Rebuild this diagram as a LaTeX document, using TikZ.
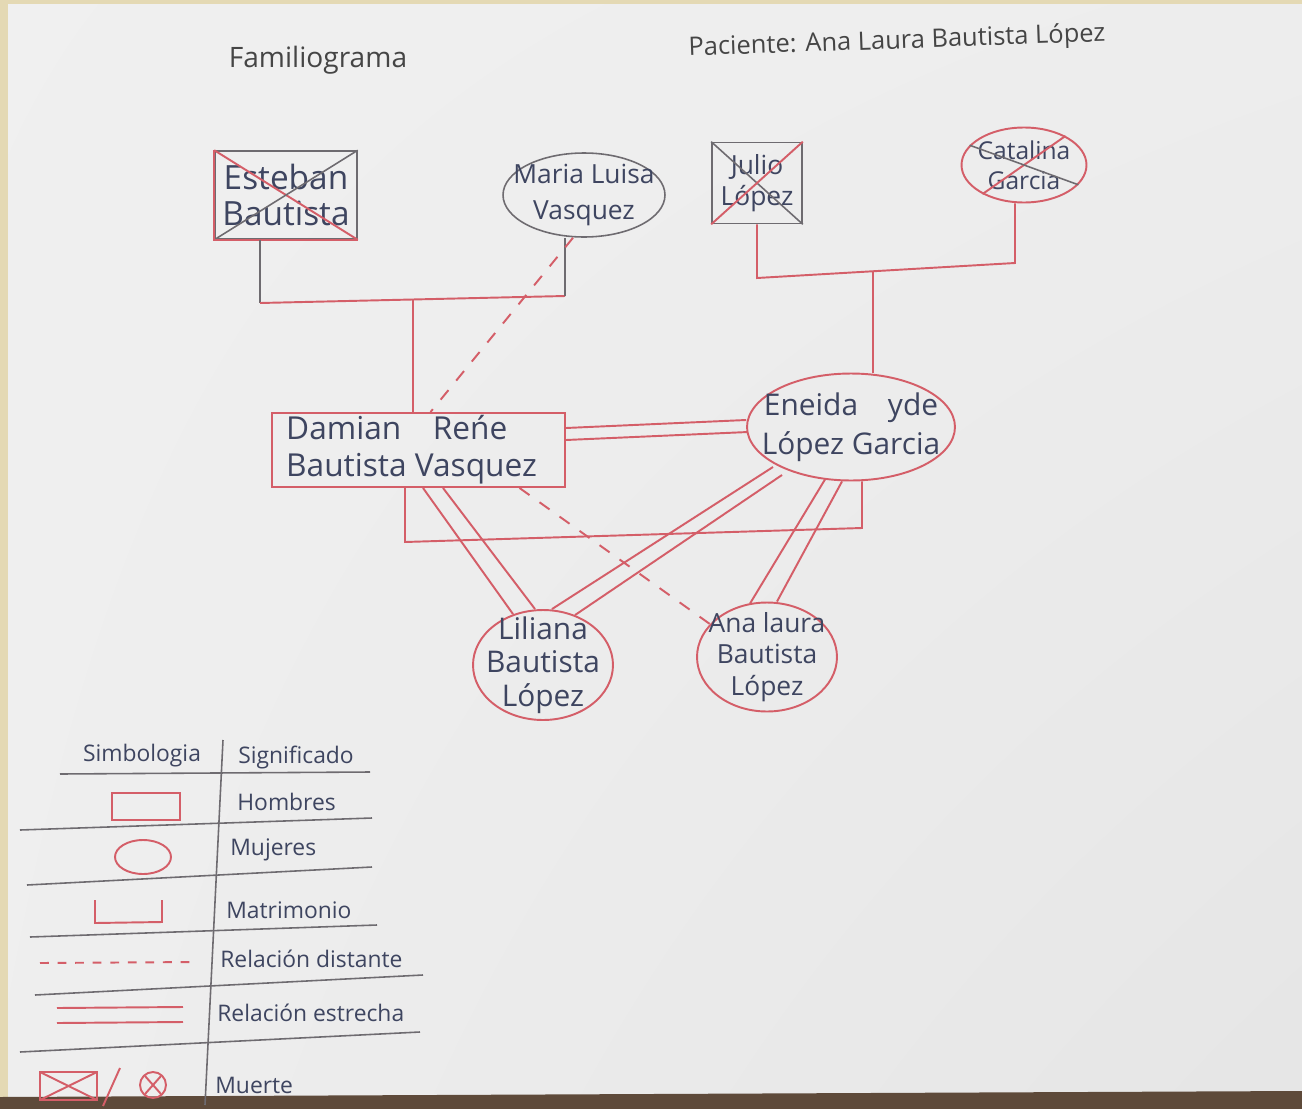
\documentclass[tikz,border=0pt]{standalone}
\usepackage{fontspec}
\setmainfont{Open Sans}
\usetikzlibrary{shapes.geometric,calc,shadings}
\definecolor{redl}{HTML}{D45E68}
\definecolor{greyl}{HTML}{6E6B70}
\definecolor{ink}{HTML}{3E4560}
\definecolor{title}{HTML}{454545}
\definecolor{beige}{HTML}{E4D9B4}
\definecolor{wood}{HTML}{5E4A3A}
\tikzset{
  rl/.style={draw=redl, line width=1.1pt},
  gl/.style={draw=greyl, line width=0.9pt},
  dashr/.style={draw=redl, line width=1.1pt, dash pattern=on 7pt off 7pt},
  nm/.style={text=ink, align=center, inner sep=0pt},
  lt/.style={text=ink, inner sep=0pt, font=\fontsize{13}{15}\selectfont},
  male/.style={rectangle, inner sep=0pt},
  fem/.style={ellipse, inner sep=0pt},
}
\begin{document}
\begin{tikzpicture}[x=0.02cm,y=-0.02cm]
\useasboundingbox (0,0) rectangle (1302,1109);
\shade[upper left=white!88!gray, upper right=white!86!gray, lower left=white!87!gray, lower right=white!80!gray] (0,0) rectangle (1302,1109);
\fill[beige] (0,0) rectangle (8,1109);
\fill[beige] (0,0) rectangle (1302,4);
\fill[wood] (0,1097) -- (1302,1091) -- (1302,1109) -- (0,1109) -- cycle;

% titles
\node[text=title, inner sep=0pt, font=\fontsize{16}{18}\selectfont] (ttl) at (318,60) {Familiograma};
\node[text=title, inner sep=0pt, font=\fontsize{14.5}{16}\selectfont, rotate=2] (pac) at (897,42) {Paciente: Ana Laura Bautista López};

% grandparents
\node[male, gl, minimum width=2.84cm, minimum height=1.76cm,
  label={[nm, font=\fontsize{19}{21}\selectfont]center:{Esteban\\Bautista}}] (esteban) at (286,195) {};
\draw[rl] (esteban.north west) -- (esteban.south east);
\draw[gl] (esteban.north east) -- (esteban.south west);
\draw[rl] (esteban.north west) -- (esteban.south west) -- (esteban.south east);

\node[fem, gl, minimum width=3.24cm, minimum height=1.68cm,
  label={[nm, font=\fontsize{15}{20}\selectfont]center:{Maria Luisa\\Vasquez}}] (maria) at (584,195) {};

\node[male, gl, minimum width=1.8cm, minimum height=1.62cm,
  label={[nm, font=\fontsize{15}{18}\selectfont]center:{Julio\\López}}] (julio) at (757,183) {};
\draw[gl] (julio.north west) -- (julio.south east);
\draw[rl] (julio.north east) -- (julio.south west);

\node[fem, rl, minimum width=2.5cm, minimum height=1.5cm,
  label={[nm, font=\fontsize{14}{17}\selectfont]center:{Catalina\\Garcia}}] (catalina) at (1024,165) {};
\draw[rl] (catalina.215) -- (catalina.35);
\draw[gl] (catalina.160) -- (catalina.-20);

% parents
\node[male, rl, minimum width=5.86cm, minimum height=1.48cm,
  label={[nm, align=left, xshift=-0.14cm, font=\fontsize{18}{21}\selectfont]center:{Damian\quad Reńe\\Bautista Vasquez}}] (damian) at (418.5,450) {};

\node[fem, rl, minimum width=4.16cm, minimum height=2.14cm,
  label={[nm, font=\fontsize{17}{22}\selectfont]center:{Eneida\quad yde\\López Garcia}}] (eneida) at (851,427) {};

% children
\node[fem, rl, minimum width=2.8cm, minimum height=2.2cm,
  label={[nm, font=\fontsize{17}{19}\selectfont]center:{Liliana\\Bautista\\López}}] (liliana) at (543,665) {};
\node[fem, rl, minimum width=2.8cm, minimum height=2.18cm,
  label={[nm, font=\fontsize{15}{18}\selectfont]center:{Ana laura\\Bautista\\López}}] (ana) at (767,657) {};

% marriage Esteban - Maria
\coordinate (j1) at (260,303);
\coordinate (j2) at (565,296);
\coordinate (c1) at (413,299.5);
\draw[gl] (esteban.south -| j1) -- (j1);
\draw[rl] (j1) -- (j2);
\draw[gl] (j2) -- (maria.south -| j2);
\draw[rl] (c1) -- (damian.north -| c1);
\draw[dashr] ($(maria.south)+(-11,0)$) -- ($(damian.north)+(12,0)$);

% marriage Julio - Catalina
\coordinate (k1) at (757,278);
\coordinate (k2) at (1015,263);
\coordinate (c2) at (873,271.3);
\draw[rl] (julio.south -| k1) -- (k1) -- (k2) -- (catalina.south -| k2);
\draw[rl] (c2) -- (eneida.north -| c2);

% Damian - Eneida
\draw[rl] ($(damian.east)+(0,-22)$) -- ($(eneida.west)+(0,-7)$);
\draw[rl] ($(damian.east)+(0,-10)$) -- ($(eneida.west)+(2,5)$);
\coordinate (m1) at (405,542);
\coordinate (m2) at (862,528);
\draw[rl] (damian.south -| m1) -- (m1) -- (m2) -- (eneida.south -| m2);

% relations to children
\draw[rl] ($(damian.south)+(4.5,0)$) -- ($(liliana.north)+(-30,5)$);
\draw[rl] ($(damian.south)+(24.5,0)$) -- ($(liliana.north)+(-8,0)$);
\draw[rl] ($(eneida.center)+(-78,40)$) -- ($(liliana.north)+(9,0)$);
\draw[rl] ($(eneida.center)+(-69,48)$) -- ($(liliana.north)+(32,6)$);
\draw[dashr] ($(damian.south)+(101,0)$) -- (ana.150);
\draw[rl] ($(eneida.south)+(-26,-2)$) -- ($(ana.north)+(-17,2)$);
\draw[rl] ($(eneida.south)+(-9,0)$) -- ($(ana.north)+(10,0)$);

% legend
\node[lt] (h1) at (142,756) {Simbologia};
\node[lt] (h2) at (296,757) {Significado};
\draw[gl] (60,774) -- (370,772);
\draw[gl] (223,740) -- (205,1105);
\draw[gl] (20,830) -- (372,818);
\draw[gl] (27,885) -- (372,867);
\draw[gl] (30,937) -- (377,925);
\draw[gl] (35,995) -- (423,975);
\draw[gl] (20,1052) -- (420,1032);

\node[lt, anchor=west] (l1) at (237,802) {Hombres};
\node[lt, anchor=west] (l2) at (230,850) {Mujeres};
\node[lt, anchor=west] (l3) at (226,910) {Matrimonio};
\node[lt, anchor=west] (l4) at (220,959) {Relación distante};
\node[lt, anchor=west] (l5) at (217,1013) {Relación estrecha};
\node[lt, anchor=west] (l6) at (215,1085) {Muerte};

\draw[rl] (112,793) rectangle (180,820);
\draw[rl] (143,857) ellipse [x radius=28, y radius=17];
\draw[rl] (95,900) -- (95,923) -- (162,922) -- (162,900);
\draw[dashr, dash pattern=on 5pt off 5pt] (40,963) -- (197,962);
\draw[rl] (57,1008) -- (183,1007);
\draw[rl] (57,1023) -- (183,1022);
\draw[rl] (40,1072) rectangle (97,1100);
\draw[rl] (40,1072) -- (97,1100);
\draw[rl] (40,1100) -- (97,1072);
\draw[rl] (103,1106) -- (120,1068);
\draw[rl] (153,1085) circle [radius=13];
\draw[rl] (145,1076) -- (161,1094);
\draw[rl] (145,1094) -- (161,1076);
\end{tikzpicture}
\end{document}
